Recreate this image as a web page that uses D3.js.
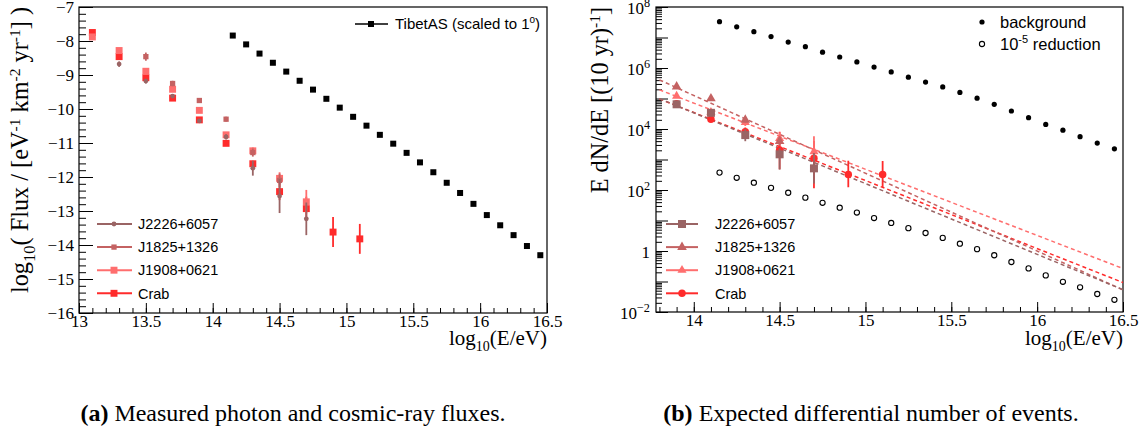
<!DOCTYPE html>
<html>
<head>
<meta charset="utf-8">
<script src="https://cdn.jsdelivr.net/npm/d3@7"></script>
<style>
  body { margin: 0; background: #fff; }
</style>
</head>
<body>
<script>
// sources, same order in both panels
const srcNames = ["J2226+6057", "J1825+1326", "J1908+0621", "Crab"];
const srcColors = ["#9a6464", "#c46262", "#ff6e6e", "#ff2b2b"];

// cosmic-ray bins (TibetAS / background)
const cosmicX = [14.15, 14.25, 14.35, 14.45, 14.55, 14.65, 14.75, 14.85, 14.95, 15.05, 15.15, 15.25,
                 15.35, 15.45, 15.55, 15.65, 15.75, 15.85, 15.95, 16.05, 16.15, 16.25, 16.35, 16.45];
const tibetFlux = [-7.84, -8.10, -8.37, -8.64, -8.90, -9.17, -9.43, -9.70, -9.96, -10.23, -10.49, -10.76,
                   -11.02, -11.29, -11.57, -11.86, -12.17, -12.47, -12.79, -13.12, -13.42, -13.71, -14.03, -14.30];
const bgLog = [7.52, 7.35, 7.19, 7.03, 6.85, 6.70, 6.52, 6.36, 6.20, 6.03, 5.87, 5.70,
               5.54, 5.38, 5.20, 5.01, 4.81, 4.59, 4.37, 4.15, 3.96, 3.75, 3.54, 3.35];
const reducedLog = [2.57, 2.40, 2.24, 2.07, 1.91, 1.75, 1.58, 1.42, 1.26, 1.08, 0.92, 0.75,
                    0.59, 0.43, 0.24, 0.06, -0.14, -0.36, -0.57, -0.80, -1.01, -1.19, -1.41, -1.60];

// panel (a): log10 flux of the photon sources
const fluxX = [
  [13.3, 13.5, 13.7, 13.9, 14.1, 14.3, 14.5, 14.7],
  [13.5, 13.7, 13.9, 14.1, 14.3, 14.5],
  [13.1, 13.3, 13.5, 13.7, 13.9, 14.1, 14.3, 14.5, 14.7],
  [13.1, 13.3, 13.5, 13.7, 13.9, 14.1, 14.3, 14.5, 14.7, 14.9, 15.1]
];
const fluxVal = [
  [-8.68, -9.18, -9.62, -10.35, -10.82, -11.74, -12.56, -13.23],
  [-8.46, -9.25, -9.75, -10.30, -11.28, -12.10],
  [-7.88, -8.28, -8.89, -9.42, -10.04, -10.76, -11.23, -12.04, -12.73],
  [-7.75, -8.46, -9.08, -9.68, -10.32, -11.01, -11.61, -12.43, -12.93, -13.62, -13.82]
];
const fluxErr = [
  [0.08, 0.07, 0.06, 0.05, 0.08, 0.22, 0.5, 0.48],
  [0.12, 0.08, 0.05, 0.07, 0.12, 0.2],
  [0.04, 0.03, 0.04, 0.05, 0.05, 0.06, 0.1, 0.18, 0.35],
  [0.03, 0.03, 0.03, 0.04, 0.04, 0.05, 0.08, 0.25, 0.35, 0.44, 0.44]
];

// panel (b): log10 of expected E dN/dE per 10 yr
const evX = [
  [13.9, 14.1, 14.3, 14.5, 14.7],
  [13.9, 14.1, 14.3, 14.5],
  [13.9, 14.1, 14.3, 14.5, 14.7],
  [13.9, 14.1, 14.3, 14.5, 14.7, 14.9, 15.1]
];
const evLog = [
  [4.81, 4.53, 3.80, 3.17, 2.71],
  [5.39, 5.00, 4.30, 3.60],
  [5.08, 4.55, 4.22, 3.69, 3.26],
  [4.83, 4.32, 3.91, 3.31, 3.04, 2.51, 2.51]
];
const evErrHi = [
  [0.03, 0.05, 0.2, 0.2, 0.5],
  [0.03, 0.04, 0.08, 0.15],
  [0.03, 0.05, 0.12, 0.2, 0.5],
  [0.03, 0.05, 0.14, 0.6, 0.57, 0.45, 0.44]
];
const evErrLo = [
  [0.03, 0.06, 0.2, 0.5, 0.5],
  [0.03, 0.04, 0.08, 0.15],
  [0.03, 0.05, 0.12, 0.2, 0.3],
  [0.03, 0.05, 0.15, 0.63, 0.98, 0.42, 0.42]
];
// power-law fits: log10(E dN/dE) = norm + slope * (log10E - 14)
const fitNorm = [4.53, 5.10, 4.85, 4.54];
const fitSlope = [-2.32, -2.55, -2.17, -2.23];

const serif = "'Liberation Serif', 'Times New Roman', serif";
const sans = "'Liberation Sans', Arial, sans-serif";

const svg = d3.select("body").append("svg")
  .attr("width", 1146)
  .attr("height", 430);

// ---------- scales ----------
const xA = d3.scaleLinear([13, 16.5], [79, 547]);
const yA = d3.scaleLinear([-16, -7], [313, 7]);
const xB = d3.scaleLinear([13.78, 16.5], [656, 1123]);
const yB = d3.scaleLog([1e-2, 1e8], [312, 7]);

// ---------- axes helpers ----------
const styleTicks = (g) => {
  g.attr("font-family", serif).attr("font-size", 17);
  g.select(".domain").remove();
  g.selectAll("line").attr("stroke", "#000");
}

const bottomAxis = (x, y0, majors, minors) => {
  svg.append("g").attr("transform", `translate(0,${y0})`)
    .call(d3.axisBottom(x).tickValues(minors).tickSize(-5).tickFormat(""))
    .call(styleTicks);
  svg.append("g").attr("transform", `translate(0,${y0})`)
    .call(d3.axisBottom(x).tickValues(majors).tickSize(-10).tickPadding(2).tickFormat(d => d))
    .call(styleTicks);
}

const superscript = (sel, base, exp) => {
  sel.text(null);
  sel.append("tspan").text(base);
  if (exp !== null) {
    sel.append("tspan").attr("dy", -7).attr("font-size", "0.72em").text(exp);
  }
}

// axis title "log10(E/eV)"
const xTitle = (xRight) => {
  const t = svg.append("text").attr("x", xRight).attr("y", 345).attr("text-anchor", "end")
    .attr("font-family", serif).attr("font-size", 21);
  t.append("tspan").text("log");
  t.append("tspan").attr("dy", 6).attr("font-size", 14).text("10");
  t.append("tspan").attr("dy", -6).text("(E/eV)");
}

// ---------- panel (a) ----------
bottomAxis(xA, 313, d3.range(13, 16.51, 0.5), d3.range(13, 16.51, 0.1));
svg.append("g").attr("transform", "translate(79,0)")
  .call(d3.axisLeft(yA).tickValues(d3.range(-16, -6.99, 0.2)).tickSize(-7).tickFormat(""))
  .call(styleTicks);
svg.append("g").attr("transform", "translate(79,0)")
  .call(d3.axisLeft(yA).tickValues(d3.range(-16, -6.99, 1)).tickSize(-14).tickPadding(5).tickFormat(d3.format("d")))
  .call(styleTicks);

svg.append("rect")
  .attr("x", 79).attr("y", 7).attr("width", 468).attr("height", 306)
  .attr("fill", "none").attr("stroke", "#000").attr("stroke-width", 1.2);

// TibetAS
svg.append("g").selectAll("rect")
  .data(cosmicX)
  .enter()
  .append("rect")
  .attr("x", (d) => xA(d) - 3)
  .attr("y", (d, i) => yA(tibetFlux[i]) - 3)
  .attr("width", 6).attr("height", 6)
  .attr("fill", "#000");

const markA = [d3.symbolCircle, d3.symbolSquare, d3.symbolSquare, d3.symbolSquare];
const sizeA = [18, 28, 48, 48];

[3, 2, 1, 0].forEach((s) => {
  const g = svg.append("g");
  const pts = fluxX[s].map((x, i) => ({ x: x, y: fluxVal[s][i], e: fluxErr[s][i] }));
  g.selectAll("line")
    .data(pts)
    .enter()
    .append("line")
    .attr("x1", (d) => xA(d.x)).attr("x2", (d) => xA(d.x))
    .attr("y1", (d) => yA(d.y + d.e)).attr("y2", (d) => yA(d.y - d.e))
    .attr("stroke", srcColors[s]).attr("stroke-width", 1.8);
  g.selectAll("path")
    .data(pts)
    .enter()
    .append("path")
    .attr("d", d3.symbol(markA[s], sizeA[s]))
    .attr("transform", (d) => `translate(${xA(d.x)},${yA(d.y)})`)
    .attr("fill", srcColors[s]);
});

// legend (a)
srcNames.forEach((name, s) => {
  const ly = 224 + s * 23.1;
  svg.append("line").attr("x1", 97).attr("x2", 132).attr("y1", ly).attr("y2", ly)
    .attr("stroke", srcColors[s]).attr("stroke-width", 2);
  svg.append("path").attr("d", d3.symbol(markA[s], sizeA[s]))
    .attr("transform", `translate(114,${ly})`).attr("fill", srcColors[s]);
  svg.append("text").attr("x", 138).attr("y", ly).attr("dy", "0.36em")
    .attr("font-family", sans).attr("font-size", 14.5).text(name);
});
svg.append("line").attr("x1", 355).attr("x2", 388).attr("y1", 24).attr("y2", 24)
  .attr("stroke", "#000").attr("stroke-width", 1.5);
svg.append("rect").attr("x", 368).attr("y", 21).attr("width", 6).attr("height", 6).attr("fill", "#000");
const tib = svg.append("text").attr("x", 395).attr("y", 24).attr("dy", "0.36em")
  .attr("font-family", sans).attr("font-size", 15);
tib.append("tspan").text("TibetAS (scaled to 1");
tib.append("tspan").attr("dy", -6).attr("font-size", 10).text("o");
tib.append("tspan").attr("dy", 6).text(")");

// axis titles (a)
xTitle(547);

const ytA = svg.append("text").attr("transform", "translate(28,7) rotate(-90)")
  .attr("text-anchor", "end").attr("font-family", serif).attr("font-size", 24.3);
ytA.append("tspan").text("log");
ytA.append("tspan").attr("dy", 7).attr("font-size", 16.5).text("10");
ytA.append("tspan").attr("dy", -7).text("( Flux / [eV");
ytA.append("tspan").attr("dy", -8).attr("font-size", 15.5).text("-1");
ytA.append("tspan").attr("dy", 8).text(" km");
ytA.append("tspan").attr("dy", -8).attr("font-size", 15.5).text("-2");
ytA.append("tspan").attr("dy", 8).text(" yr");
ytA.append("tspan").attr("dy", -8).attr("font-size", 15.5).text("-1");
ytA.append("tspan").attr("dy", 8).text("] )");

// ---------- panel (b) ----------
bottomAxis(xB, 312, d3.range(14, 16.51, 0.5), d3.range(13.8, 16.51, 0.1));
const decades = d3.range(-2, 8.01, 1);
const logMinor = [];
decades.slice(0, -1).forEach((p) => {
  for (let k = 2; k <= 9; k++) logMinor.push(k * Math.pow(10, p));
});
svg.append("g").attr("transform", "translate(656,0)")
  .call(d3.axisLeft(yB).tickValues(logMinor).tickSize(-6).tickFormat(""))
  .call(styleTicks);
svg.append("g").attr("transform", "translate(656,0)")
  .call(d3.axisLeft(yB).tickValues(decades.map((p) => Math.pow(10, p))).tickSize(-12).tickPadding(6).tickFormat(""))
  .call(styleTicks);
const yBlabels = svg.append("g").attr("font-family", serif).attr("font-size", 17);
yBlabels.selectAll("text")
  .data([-2, 0, 2, 4, 6, 8])
  .enter()
  .append("text")
  .attr("x", 650)
  .attr("y", (p) => yB(Math.pow(10, p)) + 1)
  .attr("dy", "0.36em")
  .attr("text-anchor", "end")
  .each(function (p) {
    if (p === 0) superscript(d3.select(this), "1", null);
    else superscript(d3.select(this), "10", d3.format("d")(p));
  });

svg.append("rect")
  .attr("x", 656).attr("y", 7).attr("width", 467).attr("height", 305)
  .attr("fill", "none").attr("stroke", "#000").attr("stroke-width", 1.2);

// fits
[3, 2, 1, 0].forEach((s) => {
  const line = d3.line()
    .x((d) => xB(d))
    .y((d) => yB(Math.pow(10, fitNorm[s] + fitSlope[s] * (d - 14))));
  svg.append("path")
    .attr("d", line([13.8, 16.5]))
    .attr("fill", "none").attr("stroke", srcColors[s])
    .attr("stroke-width", 1.5).attr("stroke-dasharray", "4,3");
});

// background and reduced background
svg.append("g").selectAll("circle")
  .data(cosmicX)
  .enter()
  .append("circle")
  .attr("cx", (d) => xB(d))
  .attr("cy", (d, i) => yB(Math.pow(10, bgLog[i])))
  .attr("r", 2.6).attr("fill", "#000");
svg.append("g").selectAll("circle")
  .data(cosmicX)
  .enter()
  .append("circle")
  .attr("cx", (d) => xB(d))
  .attr("cy", (d, i) => yB(Math.pow(10, reducedLog[i])))
  .attr("r", 2.6).attr("fill", "none").attr("stroke", "#000").attr("stroke-width", 1.1);

const markB = [d3.symbolSquare, d3.symbolTriangle, d3.symbolTriangle, d3.symbolCircle];
const sizeB = [64, 40, 36, 44];

[3, 2, 1, 0].forEach((s) => {
  const g = svg.append("g");
  const pts = evX[s].map((x, i) => ({ x: x, y: evLog[s][i], hi: evErrHi[s][i], lo: evErrLo[s][i] }));
  g.selectAll("line")
    .data(pts)
    .enter()
    .append("line")
    .attr("x1", (d) => xB(d.x)).attr("x2", (d) => xB(d.x))
    .attr("y1", (d) => yB(Math.pow(10, d.y + d.hi))).attr("y2", (d) => yB(Math.pow(10, d.y - d.lo)))
    .attr("stroke", srcColors[s]).attr("stroke-width", 1.8);
  g.selectAll("path")
    .data(pts)
    .enter()
    .append("path")
    .attr("d", d3.symbol(markB[s], sizeB[s]))
    .attr("transform", (d) => `translate(${xB(d.x)},${yB(Math.pow(10, d.y))})`)
    .attr("fill", srcColors[s]);
});

// legends (b)
srcNames.forEach((name, s) => {
  const ly = 224 + s * 23.1;
  svg.append("line").attr("x1", 666).attr("x2", 698).attr("y1", ly).attr("y2", ly)
    .attr("stroke", srcColors[s]).attr("stroke-width", 2);
  svg.append("path").attr("d", d3.symbol(markB[s], sizeB[s]))
    .attr("transform", `translate(682,${ly})`).attr("fill", srcColors[s]);
  svg.append("text").attr("x", 715).attr("y", ly).attr("dy", "0.36em")
    .attr("font-family", sans).attr("font-size", 14.5).text(name);
});
svg.append("circle").attr("cx", 982).attr("cy", 22).attr("r", 2.6).attr("fill", "#000");
svg.append("text").attr("x", 1000).attr("y", 22).attr("dy", "0.36em")
  .attr("font-family", sans).attr("font-size", 16.5).text("background");
svg.append("circle").attr("cx", 982).attr("cy", 44).attr("r", 2.6)
  .attr("fill", "none").attr("stroke", "#000").attr("stroke-width", 1.1);
const red = svg.append("text").attr("x", 1000).attr("y", 44).attr("dy", "0.36em")
  .attr("font-family", sans).attr("font-size", 16.5);
red.append("tspan").text("10");
red.append("tspan").attr("dy", -7).attr("font-size", 11).text("-5");
red.append("tspan").attr("dy", 7).text(" reduction");

// axis titles (b)
xTitle(1123);

const ytB = svg.append("text").attr("transform", "translate(608,7) rotate(-90)")
  .attr("text-anchor", "end").attr("font-family", serif).attr("font-size", 24.3);
ytB.append("tspan").text("E dN/dE [(10 yr)");
ytB.append("tspan").attr("dy", -8).attr("font-size", 15.5).text("-1");
ytB.append("tspan").attr("dy", 8).text("]");

// ---------- captions ----------
const captions = [
  { tag: "(a)", text: " Measured photon and cosmic-ray fluxes.", cx: 293 },
  { tag: "(b)", text: " Expected differential number of events.", cx: 871 }
];
captions.forEach((c) => {
  const t = svg.append("text").attr("x", c.cx).attr("y", 421).attr("text-anchor", "middle")
    .attr("font-family", serif).attr("font-size", 24);
  t.append("tspan").attr("font-weight", "bold").text(c.tag);
  t.append("tspan").text(c.text);
});
</script>
</body>
</html>
